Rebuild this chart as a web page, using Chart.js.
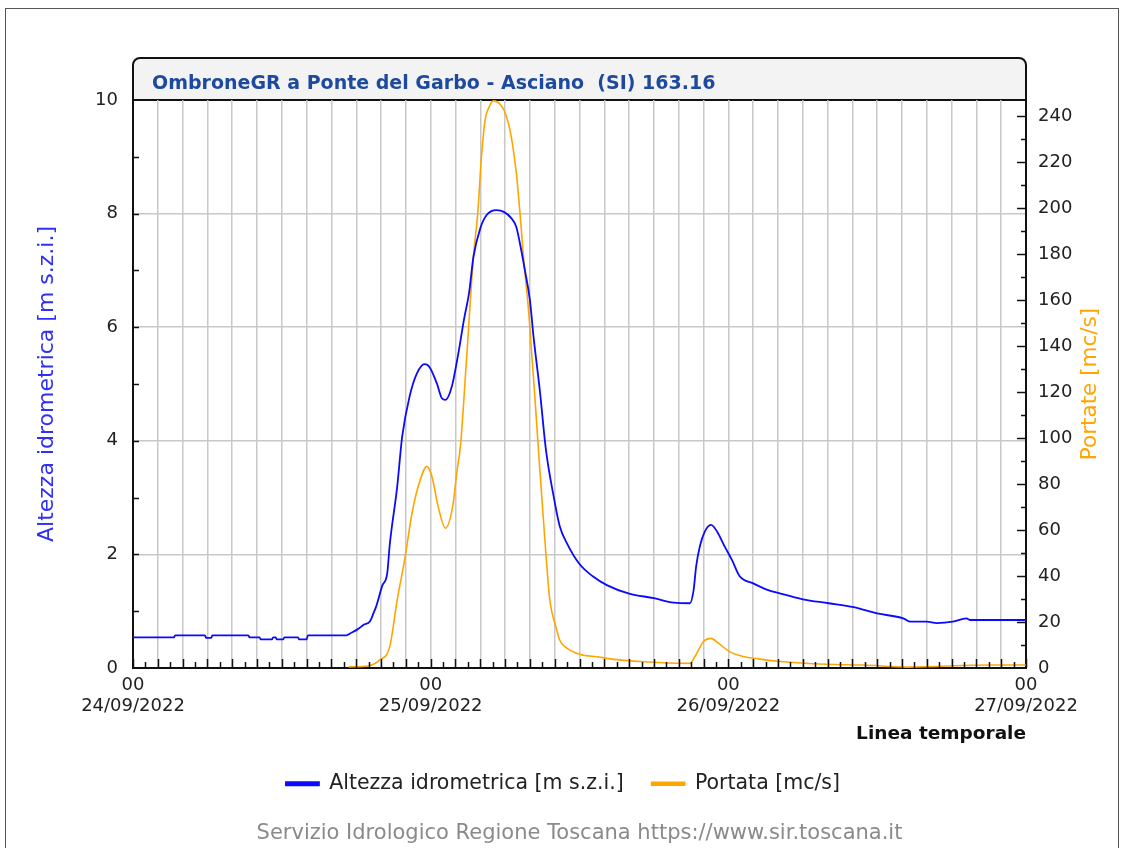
<!DOCTYPE html>
<html lang="it">
<head>
<meta charset="UTF-8">
<title>OmbroneGR a Ponte del Garbo - Asciano</title>
<script src="https://cdn.jsdelivr.net/npm/chart.js"></script>
<style>
    body { margin: 0; background: #fff; }
    .frame { position: absolute; left: 5px; top: 8px; width: 1112px; height: 900px; border: 1px solid #555; }
    #chart { position: absolute; left: 0; top: 0; }
</style>
</head>
<body>
<div class="frame"></div>
<canvas id="chart" width="1126" height="848"></canvas>

<script>
// hours from 24/09/2022 00:00
const levelHours = [
    0, 3.3, 3.4, 5.8, 5.9, 6.3, 6.4, 9.3, 9.4, 10.2,
    10.3, 11.2, 11.3, 11.5, 11.6, 12.1, 12.2, 13.3, 13.4, 14.0,
    14.1, 17.2, 17.6, 18.1, 18.6, 19.1, 19.4, 19.6, 20.1, 20.5,
    20.7, 21.3, 21.7, 22.3, 22.9, 23.5, 23.9, 24.5, 24.9, 25.2,
    25.7, 26.2, 26.7, 27.1, 27.45, 28.0, 28.5, 29.3, 29.9, 30.5,
    30.9, 31.3, 31.6, 32.0, 32.3, 32.8, 33.3, 33.9, 34.4, 35.0,
    36.0, 37.1, 38.2, 40.0, 42.0, 43.6, 44.9, 45.2, 45.4, 45.7,
    46.1, 46.6, 47.1, 47.7, 48.3, 48.9, 50.0, 51.1, 52.2, 54.0,
    56.1, 58.1, 60.0, 62.1, 62.7, 64.0, 64.8, 66.1, 67.2, 67.5,
    72
];
const levelValues = [
    0.54, 0.54, 0.575, 0.575, 0.53, 0.53, 0.575, 0.575, 0.54, 0.54,
    0.505, 0.505, 0.54, 0.54, 0.505, 0.505, 0.54, 0.54, 0.505, 0.505,
    0.575, 0.575, 0.62, 0.68, 0.76, 0.82, 0.97, 1.08, 1.45, 1.67,
    2.17, 3.19, 4.07, 4.78, 5.19, 5.35, 5.30, 5.01, 4.75, 4.72,
    4.95, 5.5, 6.15, 6.61, 7.24, 7.74, 7.97, 8.06, 8.03, 7.92,
    7.77, 7.36, 7.0, 6.48, 5.82, 4.89, 3.83, 3.04, 2.5, 2.19,
    1.83, 1.61, 1.46, 1.31, 1.23, 1.15, 1.14, 1.37, 1.78, 2.14,
    2.40, 2.52, 2.40, 2.14, 1.90, 1.62, 1.49, 1.38, 1.31, 1.21,
    1.14, 1.07, 0.96, 0.875, 0.815, 0.815, 0.79, 0.815, 0.875, 0.845,
    0.845
];

const flowHours = [
    17.4, 19.0, 19.9, 20.7, 21.3, 21.9, 22.5, 23.0, 23.7, 24.1,
    24.6, 25.2, 25.8, 26.1, 26.4, 26.9, 27.45, 27.8, 28.1, 28.4,
    28.7, 29.05, 29.7, 30.1, 30.5, 30.9, 31.2, 31.5, 31.9, 32.1,
    32.4, 32.7, 33.1, 33.6, 34.1, 34.4, 34.9, 36.0, 37.6, 38.2,
    40.9, 44.9, 45.3, 46.0, 46.6, 47.2, 48.1, 49.2, 50.4, 52.2,
    55.9, 58.9, 62.4, 69.1, 72
];
const flowValues = [
    0.5, 1, 3.5, 9.3, 29.6, 47, 67.4, 79, 87.7, 83.3,
    70.3, 60.8, 71, 84.8, 96.5, 135, 179, 198, 222.7, 238.7,
    243.8, 246.6, 244.5, 240, 231, 215.5, 198, 177.7, 155, 140,
    118, 94, 63.8, 30, 17.9, 12.2, 9, 6, 4.8, 4.2,
    2.8, 2.0, 4.9, 11.5, 12.9, 10.8, 7.1, 5.0, 4.0, 2.8,
    1.6, 1.3, 0.4, 1.3, 1.3
];

const dayTicks = { 0: '24/09/2022', 24: '25/09/2022', 48: '26/09/2022', 72: '27/09/2022' };
const levelLabel = 'Altezza idrometrica [m s.z.i.]';
const flowLabel = 'Portata [mc/s]';
const flowAxisLabel = 'Portate [mc/s]';
const titleText = 'OmbroneGR a Ponte del Garbo - Asciano  (SI) 163.16';
const footerText = 'Servizio Idrologico Regione Toscana https://www.sir.toscana.it';

const FONT = '"DejaVu Sans", sans-serif';
const GRID = '#c8c8c8';
const NONE = 'rgba(0,0,0,0)';

function toPoints(xs, ys) {
    return xs.map((x, i) => ({ x: x, y: ys[i] }));
}

// title box + inner tick marks + right axis title
const decor = {
    id: 'decor',
    afterLayout(chart) {
        chart.titleBlock.left = chart.chartArea.left + 19;
    },
    beforeDraw(chart) {
        const { ctx, chartArea: a } = chart;
        ctx.save();
        ctx.beginPath();
        ctx.roundRect(a.left, 58, a.right - a.left, a.top - 58, [7, 7, 0, 0]);
        ctx.fillStyle = '#f3f3f3';
        ctx.fill();
        ctx.lineWidth = 2;
        ctx.strokeStyle = '#111';
        ctx.stroke();
        ctx.restore();
    },
    afterDraw(chart) {
        const { ctx, chartArea: a, scales } = chart;
        ctx.save();
        ctx.strokeStyle = '#111';
        ctx.lineWidth = 1.5;
        ctx.beginPath();
        for (let h = 0; h <= 72; h++) {
            const px = Math.round(scales.x.getPixelForValue(h)) + 0.5;
            ctx.moveTo(px, a.bottom);
            ctx.lineTo(px, a.bottom - (h % 2 === 0 ? 9 : 6));
        }
        for (let v = 1; v < 10; v++) {
            const py = Math.round(scales.y.getPixelForValue(v)) + 0.5;
            ctx.moveTo(a.left, py);
            ctx.lineTo(a.left + 6, py);
        }
        for (let q = 10; q <= 240; q += 10) {
            const py = Math.round(scales.y2.getPixelForValue(q)) + 0.5;
            ctx.moveTo(a.right, py);
            ctx.lineTo(a.right - (q % 20 === 0 ? 9 : 5), py);
        }
        ctx.stroke();

        ctx.translate(1090, (a.top + a.bottom) / 2);
        ctx.rotate(-Math.PI / 2);
        ctx.font = '21.5px ' + FONT;
        ctx.fillStyle = '#ffa500';
        ctx.textAlign = 'center';
        ctx.textBaseline = 'middle';
        ctx.fillText(flowAxisLabel, 0, 0);
        ctx.restore();
    }
};

const ctx = document.getElementById('chart').getContext('2d');
new Chart(ctx, {
    type: 'line',
    data: {
        datasets: [{
            label: levelLabel,
            data: toPoints(levelHours, levelValues),
            borderColor: '#0a0aff',
            backgroundColor: '#0a0aff',
            borderWidth: 1.8,
            pointRadius: 0,
            cubicInterpolationMode: 'monotone',
            yAxisID: 'y'
        }, {
            label: flowLabel,
            data: toPoints(flowHours, flowValues),
            borderColor: '#ffa500',
            backgroundColor: '#ffa500',
            borderWidth: 1.6,
            pointRadius: 0,
            cubicInterpolationMode: 'monotone',
            yAxisID: 'y2'
        }]
    },
    options: {
        responsive: false,
        animation: false,
        layout: { padding: { top: 58, bottom: 2, left: 0, right: 0 } },
        plugins: {
            tooltip: { enabled: false },
            title: {
                display: true,
                text: titleText,
                align: 'start',
                fullSize: false,
                color: '#1d4a9e',
                font: { family: FONT, size: 19, weight: 'bold', lineHeight: 1.2 },
                padding: { top: 14.5, bottom: 4.7 }
            },
            subtitle: {
                display: true,
                text: footerText,
                position: 'bottom',
                fullSize: false,
                color: '#8a8a8a',
                font: { family: FONT, size: 21, lineHeight: 1.2 },
                padding: { top: 16.8, bottom: 0 }
            },
            legend: {
                position: 'bottom',
                labels: {
                    color: '#222',
                    font: { family: FONT, size: 20.5 },
                    boxWidth: 33,
                    boxHeight: 3,
                    padding: 28
                }
            }
        },
        scales: {
            x: {
                type: 'linear',
                min: 0,
                max: 72,
                afterFit(scale) {
                    // keep the plot bottom at y=668
                    scale.height = 848 - 668 - 2 - 42 - scale.chart.legend.height;
                },
                ticks: {
                    stepSize: 1,
                    autoSkip: false,
                    maxRotation: 0,
                    padding: 7,
                    color: '#222',
                    font: { family: FONT, size: 18, lineHeight: 1.15 },
                    callback: v => dayTicks[v] ? ['00', dayTicks[v]] : ''
                },
                grid: {
                    drawTicks: false,
                    lineWidth: 1.5,
                    color: c => (c.tick && c.tick.value % 2 === 0 && c.tick.value > 0 && c.tick.value < 72) ? GRID : NONE
                },
                border: { color: '#111', width: 2 },
                title: {
                    display: true,
                    text: 'Linea temporale',
                    align: 'end',
                    color: '#111',
                    font: { family: FONT, size: 18.5, weight: 'bold', lineHeight: 1.2 },
                    padding: { top: 0, bottom: 0 }
                }
            },
            y: {
                position: 'left',
                min: 0,
                max: 10,
                afterFit(scale) { scale.width = 133; },
                ticks: {
                    stepSize: 1,
                    padding: 15,
                    color: '#222',
                    font: { family: FONT, size: 18 },
                    callback: v => v % 2 === 0 ? v : ''
                },
                grid: {
                    drawTicks: false,
                    lineWidth: 1.5,
                    color: c => (c.tick && c.tick.value % 2 === 0 && c.tick.value > 0 && c.tick.value < 10) ? GRID : NONE
                },
                border: { color: '#111', width: 2 },
                title: {
                    display: true,
                    text: levelLabel,
                    color: '#2f2ff5',
                    font: { family: FONT, size: 22, lineHeight: 1.2 },
                    padding: { top: 34, bottom: 0 }
                }
            },
            y2: {
                position: 'right',
                min: 0,
                max: 247,
                afterFit(scale) { scale.width = 100; },
                ticks: {
                    stepSize: 10,
                    includeBounds: false,
                    padding: 12,
                    color: '#222',
                    font: { family: FONT, size: 18 },
                    callback: v => v % 20 === 0 ? v : ''
                },
                grid: { drawOnChartArea: false, drawTicks: false },
                border: { color: '#111', width: 2 }
            }
        }
    },
    plugins: [decor]
});
</script>
</body>
</html>
